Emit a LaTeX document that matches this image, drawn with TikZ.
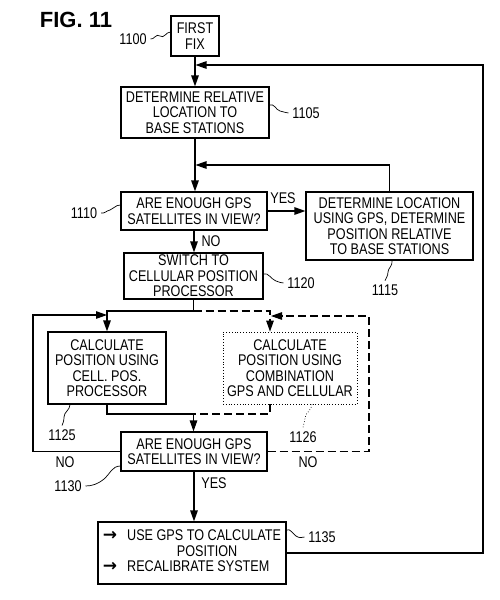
\documentclass[tikz,border=0pt]{standalone}
\usepackage{fontspec}
\setmainfont[FakeStretch=0.815]{Liberation Sans}
\newfontfamily\figfont{Liberation Sans}
\newfontfamily\arrowfont{DejaVu Sans}
\usetikzlibrary{arrows.meta}

\newcommand{\bullarrow}{{\arrowfont\bfseries\fontsize{17}{15.5}\selectfont →}}

\begin{document}
\begin{tikzpicture}[x = 1pt, y = -1pt, line width = 1.2pt,
    font = \fontsize{15.5}{15.5}\selectfont,
    box/.style = {draw, rectangle, inner sep = 0pt, align = center},
    tip/.style = {-{Triangle[length = 11pt, width = 7.5pt]}},
    lead/.style = {line width = 0.7pt},
    dsh/.style = {dash pattern = on 8pt off 4pt}]

    \useasboundingbox (0,0) rectangle (500,600);

    \node[font = \figfont\bfseries\fontsize{22}{22}\selectfont] (fig) at (76,20) {FIG. 11};

    % boxes
    \node[box, minimum width = 48pt, minimum height = 40pt] (fix) at (195,36) {FIRST\\FIX};
    \node[box, minimum width = 148pt, minimum height = 51pt] (rel) at (195,112.5)
        {DETERMINE RELATIVE\\LOCATION TO\\BASE STATIONS};
    \node[box, minimum width = 146pt, minimum height = 38pt] (gpsa) at (194,211)
        {ARE ENOUGH GPS\\SATELLITES IN VIEW?};
    \node[box, minimum width = 167pt, minimum height = 68pt] (gpsl) at (389.5,226)
        {DETERMINE LOCATION\\USING GPS, DETERMINE\\POSITION RELATIVE\\TO BASE STATIONS};
    \node[box, minimum width = 139pt, minimum height = 46pt] (sw) at (193.5,276)
        {SWITCH TO\\CELLULAR POSITION\\PROCESSOR};
    \node[box, minimum width = 118pt, minimum height = 72pt] (cell) at (107,368)
        {CALCULATE\\POSITION USING\\CELL. POS.\\PROCESSOR};
    \node[box, dotted, line width = 0.8pt, minimum width = 134pt, minimum height = 72pt] (comb) at (290,368)
        {CALCULATE\\POSITION USING\\COMBINATION\\GPS AND CELLULAR};
    \node[box, minimum width = 146pt, minimum height = 39pt] (gpsb) at (194,451.5)
        {ARE ENOUGH GPS\\SATELLITES IN VIEW?};
    \node[box, minimum width = 188pt, minimum height = 62pt] (use) at (192,553)
        {\begin{tabular}{@{}l@{\hspace{10pt}}l@{}}
        \bullarrow & USE GPS TO CALCULATE\\
          & \multicolumn{1}{c@{}}{POSITION}\\
        \bullarrow & RECALIBRATE SYSTEM
        \end{tabular}};

    % reference numerals
    \node (n1100) at (133,39) {1100};
    \node (n1105) at (306,113) {1105};
    \node (n1110) at (84,213) {1110};
    \node (n1115) at (385,290) {1115};
    \node (n1120) at (301,283) {1120};
    \node (n1125) at (62,435) {1125};
    \node (n1126) at (303,437) {1126};
    \node (n1130) at (68,486) {1130};
    \node (n1135) at (322,537) {1135};

    % yes / no
    \node (yes1) at (283,198) {YES};
    \node (no1) at (211,241) {NO};
    \node (no2) at (65,462) {NO};
    \node (no3) at (308,462) {NO};
    \node (yes2) at (214,483) {YES};

    % junctions
    \coordinate (jtop) at (195.5,65);
    \coordinate (rtop) at (483,65);
    \coordinate (jmid) at (195.5,165);
    \coordinate (split) at (193.5,311);
    \coordinate (cin) at (270,311);
    \coordinate (merge) at (193.5,414);
    \coordinate (lloop) at (33,315);
    \coordinate (lin) at (107,315);
    \coordinate (rloop) at (369,316);
    \coordinate (rin) at (271,316);

    % flow
    \draw[tip] (fix.south) -- (rel.north);
    \draw[tip] (rel.south) -- (rel.south |- gpsa.north);
    \draw[tip] (gpsa.east) -- (gpsa.east -| gpsl.west);
    \draw[tip] (gpsl.north) |- (jmid);
    \draw[tip] (gpsa.south) -- (gpsa.south |- sw.north);
    \draw[tip] (sw.south) -- (split) -| (cell.north);
    \draw[tip, dsh] (split) -- (cin) -- (cin |- comb.north);
    \draw (cell.south) |- (merge);
    \draw[dsh] (cin |- comb.south) |- (merge);
    \draw[tip] (merge) -- (merge |- gpsb.north);
    \draw[tip] (gpsb.west) -| (lloop) -- (lin);
    \draw[tip, dsh] (gpsb.east) -| (rloop) -- (rin);
    \draw[tip] (gpsb.south) -- (gpsb.south |- use.north);
    \draw[tip] (use.east) -| (rtop) -- (jtop);

    % leaders
    \draw[lead] (n1100.east) .. controls (154,40) and (156,33) .. (160,36)
        .. controls (164,39) and (166,32) .. (fix.west |- 0,32);
    \draw[lead] (rel.east |- 0,105) .. controls (274,103) and (276,110) .. (280,111)
        .. controls (284,112) and (287,113) .. (n1105.west);
    \draw[lead] (n1110.east) .. controls (104,214) and (106,211) .. (110,210)
        .. controls (114,209) and (115,205) .. (gpsa.west |- 0,205);
    \draw[lead] (gpsl.south -| 392,0) .. controls (393,266) and (388,268) .. (388,272)
        .. controls (388,276) and (386,278) .. (n1115.north);
    \draw[lead] (sw.east |- 0,274) .. controls (268,272) and (272,280) .. (276,281)
        .. controls (279,282) and (281,283) .. (n1120.west);
    \draw[lead] (cell.south -| 70,0) .. controls (70,410) and (64,412) .. (64,417)
        .. controls (64,421) and (63,423) .. (n1125.north);
    \draw[lead, dotted] (comb.south -| 312,0) .. controls (312,410) and (305,413) .. (305,418)
        .. controls (305,422) and (303,424) .. (n1126.north);
    \draw[lead] (gpsb.west |- 0,466) .. controls (112,466) and (110,474) .. (104,479)
        .. controls (98,484) and (92,486) .. (n1130.east);
    \draw[lead] (use.east |- 0,530) .. controls (290,528) and (293,534) .. (296,536)
        .. controls (299,538) and (302,538) .. (n1135.west);
\end{tikzpicture}
\end{document}
